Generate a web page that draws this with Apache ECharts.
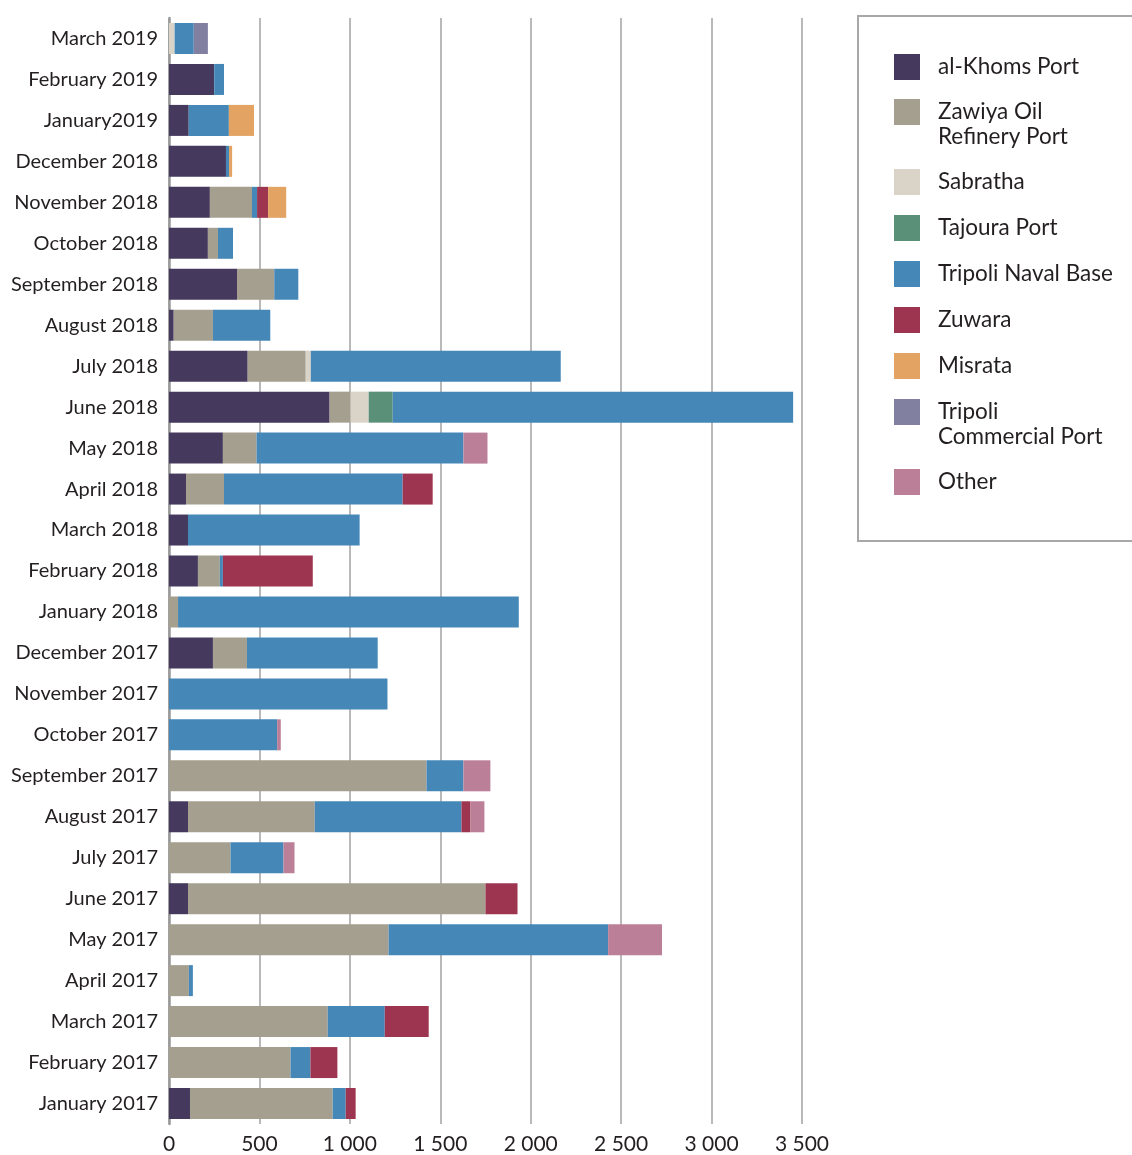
<!DOCTYPE html>
<html>
<head>
<meta charset="utf-8">
<script src="https://cdn.jsdelivr.net/npm/echarts@6/dist/echarts.min.js"></script>
<style>
  html,body{margin:0;padding:0;background:#fff;}
  .main{width:1132px;height:1155px;}
</style>
</head>
<body>
<div class="main"></div>
<script>
// months, bottom to top
var months = ['January 2017','February 2017','March 2017','April 2017','May 2017','June 2017',
  'July 2017','August 2017','September 2017','October 2017','November 2017','December 2017',
  'January 2018','February 2018','March 2018','April 2018','May 2018','June 2018',
  'July 2018','August 2018','September 2018','October 2018','November 2018','December 2018',
  'January2019','February 2019','March 2019'];

var alKhoms   = [116,0,0,0,0,105,0,105,0,0,0,243,0,160,105,94,298,888,435,26,376,215,226,315,109,250,0];
var zawiya    = [789,672,878,110,1214,1645,340,701,1424,0,0,188,50,121,0,210,186,116,321,217,206,56,233,0,0,0,0];
var sabratha  = [0,0,0,0,0,0,0,0,0,0,0,0,0,0,0,0,0,100,28,0,0,0,0,0,0,0,31];
var tajoura   = [0,0,0,0,0,0,0,0,0,0,0,0,0,0,0,0,0,133,0,0,0,0,0,0,0,0,0];
var naval     = [72,110,315,22,1214,0,293,811,204,598,1208,723,1884,17,949,988,1144,2214,1382,317,133,83,28,17,222,54,106];
var zuwara    = [55,149,243,0,0,177,0,50,0,0,0,0,0,497,0,166,0,0,0,0,0,0,61,0,0,0,0];
var misrata   = [0,0,0,0,0,0,0,0,0,0,0,0,0,0,0,0,0,0,0,0,0,0,100,17,139,0,0];
var tripoliCP = [0,0,0,0,0,0,0,0,0,0,0,0,0,0,0,0,0,0,0,0,0,0,0,0,0,0,78];
var other     = [0,0,0,0,298,0,61,77,149,20,0,0,0,0,0,0,133,0,0,0,0,0,0,0,0,0,0];

var seriesNames = ['al-Khoms Port','Zawiya Oil Refinery Port','Sabratha','Tajoura Port',
  'Tripoli Naval Base','Zuwara','Misrata','Tripoli Commercial Port','Other'];
var seriesData = [alKhoms,zawiya,sabratha,tajoura,naval,zuwara,misrata,tripoliCP,other];
var colors = ['#453a5e','#a59f8f','#dad3c7','#5a9078','#4588b8','#9e3550','#e2a363','#8180a0','#bc7f98'];
// first line goes in the legend, the second line (if any) is added as graphic text
var legendLine1 = ['al-Khoms Port','Zawiya Oil','Sabratha','Tajoura Port',
  'Tripoli Naval Base','Zuwara','Misrata','Tripoli','Other'];
var legendLine2 = ['','Refinery Port','','','','','','Commercial Port',''];
var legendTops = [54,99,169,215,261,307,353,399,469];

var font = 'Lato';
var txtColor = '#231f20';

var series = seriesNames.map(function(n,i){
  return {
    name: n,
    type: 'bar',
    stack: 'total',
    barWidth: 31,
    data: seriesData[i],
    itemStyle: {color: colors[i]},
    emphasis: {disabled: true}
  };
});

var legends = seriesNames.map(function(n,i){
  return {
    data: [n],
    left: 894,
    top: legendTops[i],
    padding: 0,
    icon: 'rect',
    itemWidth: 26,
    itemHeight: 26,
    selectedMode: false,
    formatter: function(){ return legendLine1[i]; },
    textStyle: {fontFamily: font, fontSize: 22.5, color: txtColor, padding: [0,0,0,13]}
  };
});

var graphics = [{
  type: 'rect',
  shape: {x: 858, y: 16, width: 300, height: 525},
  style: {fill: 'none', stroke: '#a8a8a8', lineWidth: 2}
}];
legendLine2.forEach(function(t,i){
  if(!t) return;
  graphics.push({
    type: 'text',
    x: 938,
    y: legendTops[i] + 13 + 25,
    style: {text: t, font: '22.5px ' + font, fill: txtColor, textVerticalAlign: 'middle', verticalAlign: 'middle'}
  });
});

var myChart = echarts.init(document.querySelector('.main'));

var option = {
  animation: false,
  grid: {left: 169, right: 330, top: 18, bottom: 28, containLabel: false},
  legend: legends,
  graphic: graphics,
  xAxis: {
    type: 'value',
    min: 0,
    max: 3500,
    interval: 500,
    axisLine: {show: false},
    axisTick: {show: false},
    splitLine: {lineStyle: {color: '#a8a8a8', width: 1.6}},
    axisLabel: {
      fontFamily: font,
      fontSize: 21,
      color: txtColor,
      margin: 10,
      formatter: function(v){
        if(v < 1000) return String(v);
        var r = String(v % 1000);
        while(r.length < 3) r = '0' + r;
        return Math.floor(v/1000) + ' ' + r;
      }
    }
  },
  yAxis: {
    type: 'category',
    data: months,
    axisLine: {show: true, lineStyle: {color: '#999', width: 2.5}},
    axisTick: {show: false},
    axisLabel: {fontFamily: font, fontSize: 20, color: txtColor, margin: 11}
  },
  series: series
};

myChart.setOption(option);
</script>
</body>
</html>
